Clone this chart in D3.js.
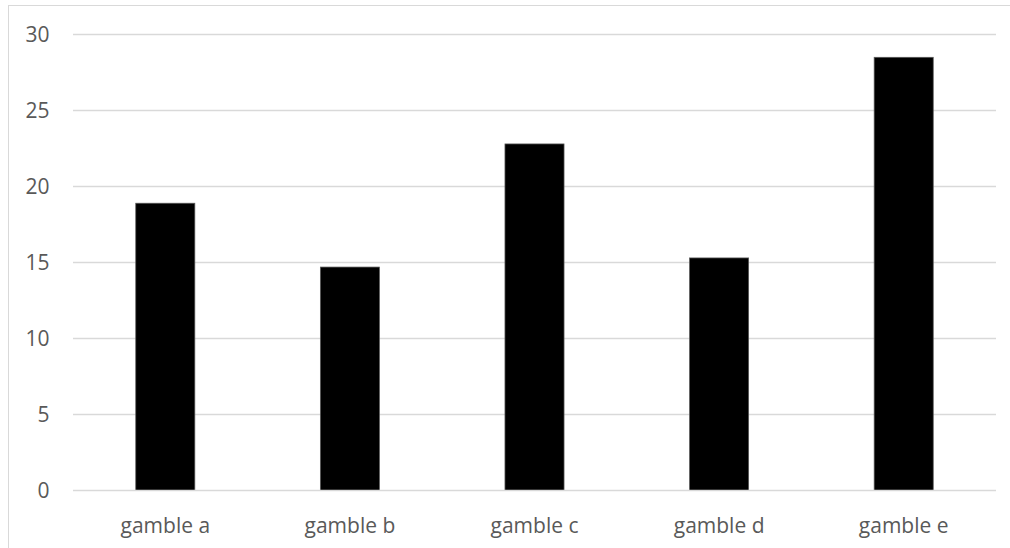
<!DOCTYPE html>
<html><head><meta charset="utf-8">
<script src="https://cdn.jsdelivr.net/npm/d3@7/dist/d3.min.js"></script>
<style>body{margin:0;background:#fff}svg{display:block}</style>
</head><body>
<script>
const categories = ["gamble a","gamble b","gamble c","gamble d","gamble e"];
const values = [18.9, 14.7, 22.8, 15.3, 28.5];
const yTicks = [0,5,10,15,20,25,30];

(function(){
const W=1010,H=548;
const svg=d3.select("body").append("svg").attr("width",W).attr("height",H);
svg.append("rect").attr("x",8.5).attr("y",5.5).attr("width",W+10).attr("height",H+10)
  .attr("fill","#fff").attr("stroke","#d9d9d9");
const pl=73,pr=996,pt=34.5,pb=490.5;
const x=d3.scaleBand().domain(categories).range([pl,pr]).padding(0);
const y=d3.scaleLinear().domain([0,30]).range([pb,pt]);
const font="'Open Sans', 'Liberation Sans', sans-serif";
const fs=21;

svg.append("g").selectAll("line").data(yTicks.filter(d=>d>0)).join("line")
  .attr("x1",pl).attr("x2",pr).attr("y1",d=>y(d)).attr("y2",d=>y(d))
  .attr("stroke","#d9d9d9").attr("stroke-width",1.5);

const bw=x.bandwidth()*0.32;
svg.append("g").selectAll("rect").data(values).join("rect")
  .attr("x",(d,i)=>x(categories[i])+x.bandwidth()/2-bw/2)
  .attr("width",bw)
  .attr("y",d=>y(d)).attr("height",d=>y(0)-y(d))
  .attr("fill","#000").attr("stroke","#595959").attr("stroke-width",0.75);

svg.append("line").attr("x1",pl).attr("x2",pr).attr("y1",pb).attr("y2",pb)
  .attr("stroke","#d9d9d9").attr("stroke-width",1.5);

const yAxis=d3.axisLeft(y).tickValues(yTicks).tickSize(0).tickPadding(23.5);
const gy=svg.append("g").attr("transform",`translate(${pl},0)`).call(yAxis);
gy.select(".domain").remove();
gy.selectAll("text").attr("font-family",font).attr("font-size",fs).attr("fill","#595959");

const xAxis=d3.axisBottom(x).tickSize(0).tickPadding(28);
const gx=svg.append("g").attr("transform",`translate(0,${pb})`).call(xAxis);
gx.select(".domain").remove();
gx.selectAll("text").attr("font-family",font).attr("font-size",fs).attr("fill","#595959");
})();
</script>
</body></html>
